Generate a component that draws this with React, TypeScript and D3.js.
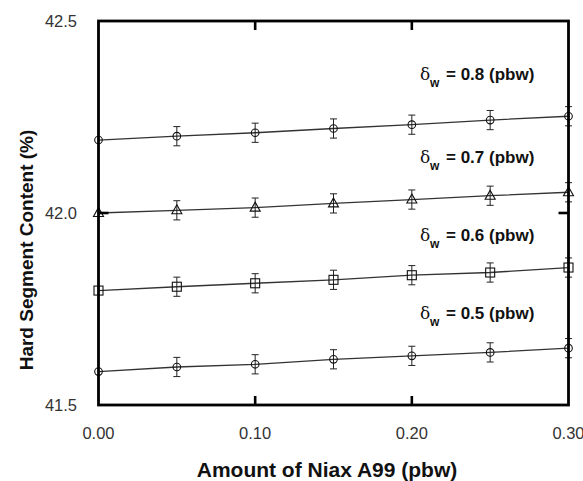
import React from "react";
import * as d3 from "d3";

// Niax A99 loading (pbw)
const amounts = [0, 0.05, 0.1, 0.15, 0.2, 0.25, 0.3];

// Hard segment content (%) for each δw level
const hsc08 = [42.19, 42.2, 42.209, 42.22, 42.23, 42.242, 42.252];
const hsc07 = [42.0, 42.007, 42.014, 42.025, 42.035, 42.045, 42.054];
const hsc06 = [41.798, 41.808, 41.817, 41.826, 41.838, 41.845, 41.858];
const hsc05 = [41.587, 41.599, 41.606, 41.619, 41.628, 41.637, 41.648];

// Standard deviation per point
const errs = [0, 0.025, 0.025, 0.025, 0.025, 0.025, 0.025];

const deltaLabels = ["0.8", "0.7", "0.6", "0.5"];
const markerKinds = ["circle", "triangle", "square", "circle"];

const xTicks = [0, 0.1, 0.2, 0.3];
const yTicks = [41.5, 42.0, 42.5];

const W = 583;
const H = 481;
const left = 98.5;
const right = 568.5;
const top = 21;
const bottom = 405;

export default function App() {
  const x = d3.scaleLinear().domain([0, 0.3]).range([left, right]);
  const y = d3.scaleLinear().domain([41.5, 42.5]).range([bottom, top]);
  const line = d3
    .line<[number, number]>()
    .x((d) => x(d[0]))
    .y((d) => y(d[1]));

  const allSeries = [hsc08, hsc07, hsc06, hsc05];
  // label baselines sit a little above each series line
  const labelBaseline = [42.346, 42.129, 41.928, 41.724];

  const marker = (kind: string, cx: number, cy: number, key: string) => {
    if (kind === "square") {
      return (
        <rect key={key} x={cx - 4.5} y={cy - 4.5} width={9} height={9} fill="none" stroke="#111" strokeWidth={1.1} />
      );
    }
    if (kind === "triangle") {
      return (
        <path
          key={key}
          d={`M${cx},${cy - 5.5}L${cx + 5},${cy + 3.5}L${cx - 5},${cy + 3.5}Z`}
          fill="none"
          stroke="#111"
          strokeWidth={1.1}
        />
      );
    }
    return <circle key={key} cx={cx} cy={cy} r={3.8} fill="none" stroke="#111" strokeWidth={1.1} />;
  };

  return (
    <svg
      width={W}
      height={H}
      style={{ position: "absolute", left: 0, top: 0, background: "#fff" }}
      fontFamily="Arial, 'Liberation Sans', sans-serif"
    >
      <rect width={W} height={H} fill="#fff" />

      {/* series lines, error bars and markers */}
      {allSeries.map((vals, si) => {
        const pts = amounts.map((a, i) => [a, vals[i]] as [number, number]);
        return (
          <g key={si}>
            <path d={line(pts) || ""} fill="none" stroke="#333" strokeWidth={1.3} />
            {pts.map(([a, v], i) => {
              if (!errs[i]) return null;
              const cx = x(a);
              const y1 = y(v + errs[i]);
              const y2 = y(v - errs[i]);
              return (
                <g key={i} stroke="#222" strokeWidth={1}>
                  <line x1={cx} x2={cx} y1={y1} y2={y2} />
                  <line x1={cx - 3.5} x2={cx + 3.5} y1={y1} y2={y1} />
                  <line x1={cx - 3.5} x2={cx + 3.5} y1={y2} y2={y2} />
                </g>
              );
            })}
            {pts.map(([a, v], i) => marker(markerKinds[si], x(a), y(v), `m${i}`))}
          </g>
        );
      })}

      {/* frame */}
      <rect x={left} y={top} width={right - left} height={bottom - top} fill="none" stroke="#000" strokeWidth={2.8} />

      {/* inward ticks */}
      {xTicks.slice(1, -1).map((t) => (
        <g key={`xt${t}`} stroke="#000" strokeWidth={2.6}>
          <line x1={x(t)} x2={x(t)} y1={bottom} y2={bottom - 9} />
          <line x1={x(t)} x2={x(t)} y1={top} y2={top + 9} />
        </g>
      ))}
      {yTicks.slice(1, -1).map((t) => (
        <g key={`yt${t}`} stroke="#000" strokeWidth={2.6}>
          <line x1={left} x2={left + 10} y1={y(t)} y2={y(t)} />
          <line x1={right} x2={right - 10} y1={y(t)} y2={y(t)} />
        </g>
      ))}

      {/* tick labels */}
      {xTicks.map((t) => (
        <text key={`xl${t}`} x={x(t)} y={438.5} fontSize={16.5} fill="#333" textAnchor="middle">
          {d3.format(".2f")(t)}
        </text>
      ))}
      {yTicks.map((t) => (
        <text key={`yl${t}`} x={77} y={y(t) + 6} fontSize={16.5} fill="#333" textAnchor="end">
          {d3.format(".1f")(t)}
        </text>
      ))}

      {/* δw annotations */}
      {deltaLabels.map((lab, i) => {
        const by = y(labelBaseline[i]);
        return (
          <g key={lab}>
            <text x={420} y={by} fontSize={17} fontFamily="'DejaVu Serif', 'Liberation Serif', serif" fill="#111">
              δ
            </text>
            <text x={430} y={by + 7} fontSize={12} fontWeight="bold" fill="#111">
              w
            </text>
            <text x={446} y={by} fontSize={17} fontWeight="bold" fill="#111">
              = {lab} (pbw)
            </text>
          </g>
        );
      })}

      {/* axis titles */}
      <text x={327} y={477} fontSize={21} fontWeight="bold" textAnchor="middle" fill="#111">
        Amount of Niax A99 (pbw)
      </text>
      <text
        transform="translate(33,250) rotate(-90)"
        fontSize={19}
        fontWeight="bold"
        textAnchor="middle"
        fill="#111"
      >
        Hard Segment Content (%)
      </text>
    </svg>
  );
}
